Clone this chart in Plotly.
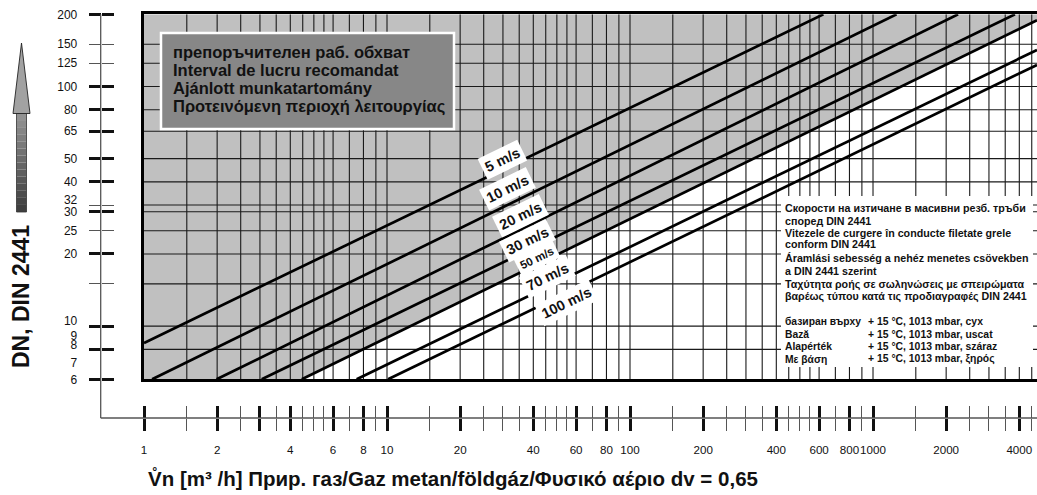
import math
import plotly.graph_objects as go

W, H = 1037, 495

# ---------------- data ----------------
velocity_labels = ["5 m/s", "10 m/s", "20 m/s", "30 m/s", "50 m/s", "70 m/s", "100 m/s"]
flow_start = [1.0, 1.08, 1.99, 3.05, 4.46, 7.50, 10.1]      # m3/h at line start
dn_start = [8.5, 6.0, 6.0, 6.0, 6.0, 6.0, 6.0]              # DN at line start
flow_end = [625, 1250, 2240, 3840, 4730, 4730, 4730]        # m3/h at line end
dn_end = [200, 200, 200, 200, 189, 142, 123]                # DN at line end
recommended_limit_index = 4                                 # 50 m/s line bounds the grey area

flow_range = [1, 4730]
dn_range = [6, 200]

x_major_ticks = [1, 2, 3, 4, 6, 8, 10, 20, 40, 60, 80, 100, 200, 400, 600, 800, 1000, 2000, 4000]
x_minor_ticks = [1.5, 2.5, 3.5, 4.5, 5, 5.5, 7, 9, 15, 25, 30, 35, 45, 50, 55, 70, 90,
                 150, 250, 300, 350, 450, 500, 550, 700, 900, 1500, 2500, 3000, 3500, 4500]
x_tick_labels = [1, 2, 4, 6, 8, 10, 20, 40, 60, 80, 100, 200, 400, 600, 800, 1000, 2000, 4000]

y_major_ticks = [6, 8, 10, 20, 30, 40, 50, 65, 80, 100, 200]
y_minor_ticks = [15, 25, 32, 125, 150]
y_tick_labels = [6, 7, 20, 25, 30, 40, 50, 65, 80, 100, 125, 150, 200]
y_tick_labels_raised = [8, 10, 32]          # printed a little above their tick in the reference
y_tick_labels_nudged = [9]                  # printed just above its position
y_grid = [8, 10, 15, 20, 25, 30, 32, 40, 50, 65, 80, 100, 125, 150]

legend_lines = ["препоръчителен раб. обхват", "Interval de lucru recomandat",
                "Ajánlott munkatartomány", "Προτεινόμενη περιοχή λειτουργίας"]
note_lines = ["Скорости на изтичане в масивни резб. тръби", "според DIN 2441",
              "Vitezele de curgere în conducte filetate grele", "conform DIN 2441",
              "Áramlási sebesség a nehéz menetes csövekben", "a DIN 2441 szerint",
              "Ταχύτητα ροής σε σωληνώσεις με σπειρώματα",
              "βαρέως τύπου κατά τις προδιαγραφές DIN 2441"]
base_labels = ["базиран върху", "Bază", "Alapérték", "Με βάση"]
base_values = ["+ 15 °C, 1013 mbar, сух", "+ 15 °C, 1013 mbar, uscat",
               "+ 15 °C, 1013 mbar, száraz", "+ 15 °C, 1013 mbar, ξηρός"]
x_title = "V\u030an [m³ /h] Прир. газ/Gaz metan/földgáz/Φυσικό αέριο dv = 0,65"
y_title = "DN, DIN 2441"

# ---------------- helpers ----------------
FONT = "Liberation Sans, Arial, Helvetica, sans-serif"


def PX(x):
    return x / W


def PY(y):
    return 1 - y / H


XDOM = [PX(144), 1.0]
YDOM = [PY(379.3), PY(14.3)]
xr = [math.log10(flow_range[0]), math.log10(flow_range[1])]
yr = [math.log10(dn_range[0]), math.log10(dn_range[1])]

fig = go.Figure()

# grey recommended area (above the 50 m/s line)
k = recommended_limit_index
gray_x = [flow_range[0], flow_range[1], flow_end[k], flow_start[k], flow_range[0]]
gray_y = [dn_range[1], dn_range[1], dn_end[k], dn_start[k], dn_range[0]]
fig.add_trace(go.Scatter(x=gray_x, y=gray_y, fill="toself", fillcolor="#c0c0c0",
                         mode="lines", line=dict(width=0), hoverinfo="skip", showlegend=False))

# grid lines
x_grid = sorted(v for v in x_major_ticks + x_minor_ticks if v > flow_range[0])
gx, gy = [], []
for v in x_grid:
    gx += [v, v, None]
    gy += [dn_range[0], dn_range[1], None]
fig.add_trace(go.Scatter(x=gx, y=gy, mode="lines", line=dict(color="#1a1a1a", width=1.1),
                         hoverinfo="skip", showlegend=False))
hx, hy = [], []
for v in y_grid:
    hx += [flow_range[0], flow_range[1], None]
    hy += [v, v, None]
fig.add_trace(go.Scatter(x=hx, y=hy, mode="lines", line=dict(color="#1a1a1a", width=1.1),
                         hoverinfo="skip", showlegend=False))

# velocity lines
for i, name in enumerate(velocity_labels):
    fig.add_trace(go.Scatter(x=[flow_start[i], flow_end[i]], y=[dn_start[i], dn_end[i]],
                             mode="lines", line=dict(color="black", width=2.7),
                             name=name, hoverinfo="skip", showlegend=False))

# dummy traces so the scale axes get subplots
for ax in ["2", "3", "4", "5", "6"]:
    fig.add_trace(go.Scatter(x=[flow_range[0]], y=[dn_range[0]], xaxis="x" + ax, yaxis="y" + ax,
                             mode="markers", marker=dict(opacity=0), hoverinfo="skip",
                             showlegend=False))

xtick_font = dict(family=FONT, size=11.6, color="#111")
ytick_font = dict(family=FONT, size=12, color="#111")
xl_pos = PY(418)
yl_pos = PX(100.7)


def scale(letter, side, tickvals, ticklen, width, color, labels=None, minor=None, shift=0):
    d = dict(type="log", range=xr if letter == "x" else yr, overlaying=letter,
             anchor="free", position=xl_pos if letter == "x" else yl_pos, side=side,
             tickmode="array", tickvals=tickvals, ticks="outside", ticklen=ticklen,
             tickwidth=width, tickcolor=color, showgrid=False, showline=False,
             zeroline=False, fixedrange=True, automargin=False)
    if labels is not None:
        d.update(ticktext=[str(v) for v in labels], showticklabels=True,
                 tickfont=xtick_font if letter == "x" else ytick_font,
                 tickangle=0, ticklabelshift=int(shift))
    else:
        d.update(showticklabels=False)
    if minor is not None:
        d["minor"] = dict(tickmode="array", tickvals=minor, ticks="outside", ticklen=ticklen,
                          tickwidth=1.2, tickcolor="#555", showgrid=False)
    return d


fig.update_layout(
    width=W, height=H, autosize=False,
    margin=dict(l=0, r=0, t=0, b=0, pad=0, autoexpand=False),
    paper_bgcolor="white", plot_bgcolor="white", showlegend=False,
    xaxis=dict(type="log", range=xr, domain=XDOM, showgrid=False, showticklabels=False,
               ticks="", showline=True, linewidth=3, linecolor="black", mirror=True,
               zeroline=False, fixedrange=True, automargin=False),
    yaxis=dict(type="log", range=yr, domain=YDOM, showgrid=False, showticklabels=False,
               ticks="", showline=True, linewidth=3, linecolor="black", mirror=False,
               zeroline=False, fixedrange=True, automargin=False),
    xaxis2=scale("x", "bottom", x_major_ticks, 12, 3, "#111", minor=x_minor_ticks),
    xaxis3=scale("x", "top", x_major_ticks, 12, 3, "#111", minor=x_minor_ticks),
    xaxis4=scale("x", "bottom", x_tick_labels, 21, 1, "rgba(0,0,0,0)", labels=x_tick_labels),
    xaxis5=scale("x", "bottom", [], 20, 1, "rgba(0,0,0,0)"),
    xaxis6=scale("x", "bottom", [], 20, 1, "rgba(0,0,0,0)"),
    yaxis2=scale("y", "left", y_major_ticks, 12, 3, "#111", minor=y_minor_ticks),
    yaxis3=scale("y", "right", y_major_ticks, 12, 3, "#111", minor=y_minor_ticks),
    yaxis4=scale("y", "left", y_tick_labels, 21, 1, "rgba(0,0,0,0)", labels=y_tick_labels),
    yaxis5=scale("y", "left", y_tick_labels_raised, 21, 1, "rgba(0,0,0,0)",
                 labels=y_tick_labels_raised, shift=-5),
    yaxis6=scale("y", "left", y_tick_labels_nudged, 21, 1, "rgba(0,0,0,0)",
                 labels=y_tick_labels_nudged, shift=-1),
)

shapes = []
# scale axis lines
shapes.append(dict(type="line", xref="paper", yref="paper", x0=PX(100.7), x1=PX(100.7),
                   y0=PY(14.3), y1=PY(418), line=dict(color="#555", width=1.3)))
shapes.append(dict(type="line", xref="paper", yref="paper", x0=PX(100.7), x1=1.0,
                   y0=PY(418), y1=PY(418), line=dict(color="#555", width=1.3)))
# legend box
shapes.append(dict(type="rect", xref="paper", yref="paper", x0=PX(161), x1=PX(454),
                   y0=PY(129), y1=PY(33), fillcolor="#878787",
                   line=dict(color="white", width=2.5), layer="above"))
# note box
shapes.append(dict(type="rect", xref="paper", yref="paper", x0=PX(781), x1=PX(1033),
                   y0=PY(367), y1=PY(196), fillcolor="white", line=dict(width=0),
                   layer="above"))
# DN arrow (gradient approximated with bands)
n_bands = 14
top, bot = 113.0, 212.0
for b in range(n_bands):
    y0 = top + (bot - top) * b / n_bands
    y1 = top + (bot - top) * (b + 1) / n_bands
    g = int(150 - (150 - 60) * (b + 0.5) / n_bands)
    shapes.append(dict(type="rect", xref="paper", yref="paper", x0=PX(16.5), x1=PX(26.5),
                       y0=PY(y1), y1=PY(y0), fillcolor=f"rgb({g},{g},{g})",
                       line=dict(width=0)))
shapes.append(dict(type="rect", xref="paper", yref="paper", x0=PX(16.5), x1=PX(26.5),
                   y0=PY(212), y1=PY(113), line=dict(color="#333", width=0.8)))
shapes.append(dict(type="path", xref="paper", yref="paper",
                   path=f"M {PX(21.5)} {PY(43)} L {PX(30)} {PY(113.5)} L {PX(13)} {PY(113.5)} Z",
                   fillcolor="#a2a2a2", line=dict(color="#222", width=0.9)))
fig.update_layout(shapes=shapes)

ann = []


def text(t, x, y, size, xanchor="left", **kw):
    d = dict(text=t, xref="paper", yref="paper", x=PX(x), y=PY(y), xanchor=xanchor,
             yanchor="middle", showarrow=False,
             font=dict(family=FONT, size=size, color=kw.pop("color", "#111"),
                       weight=kw.pop("weight", "bold")))
    d.update(kw)
    ann.append(d)


legend_y = [51.7, 69.5, 87.5, 106]
for t, y in zip(legend_lines, legend_y):
    text(t, 171, y, 16.5)

note_y = [208.5, 220.5, 232.5, 244.5, 258, 270.5, 284, 296.5]
for t, y in zip(note_lines, note_y):
    text(t, 782.5, y, 10.7)
base_y = [321.7, 334.2, 346.7, 359]
for a, b, y in zip(base_labels, base_values, base_y):
    text(a, 782.5, y, 10.3)
    text(b, 866, y, 10.4)

# velocity labels
label_pos = [(502, 160), (507, 189), (520, 216), (527, 241), (537, 258), (547, 277), (566, 303)]
label_size = [14.5, 14.5, 14.5, 14.5, 11.5, 14.5, 14.5]
for t, (x, y), s in zip(velocity_labels, label_pos, label_size):
    text(t, x, y, s, xanchor="center", textangle=-26, bgcolor="white", borderpad=3)

text(x_title, 146, 478, 20.5)
text(y_title, 21, 297, 23, xanchor="center", textangle=-90)

fig.update_layout(annotations=ann)
fig.write_html("out.html", config={"displayModeBar": False},
               post_script="document.body.style.margin='0';"
                           "document.body.style.overflow='hidden';")
